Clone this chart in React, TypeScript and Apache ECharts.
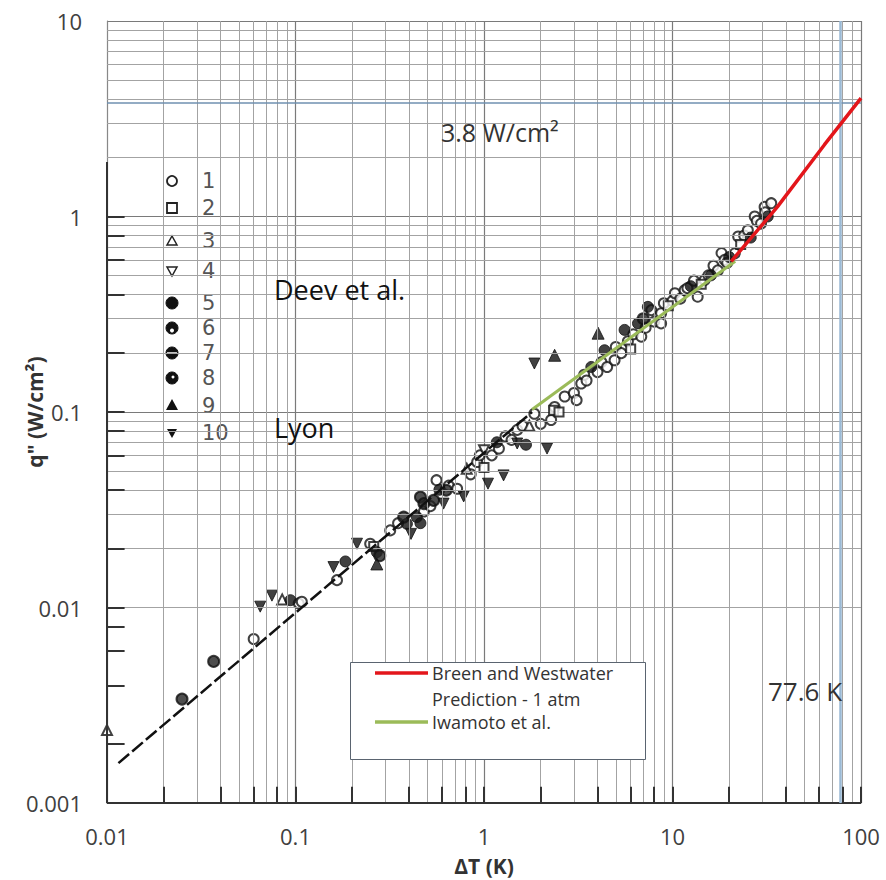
import React, { useEffect, useRef } from "react";
import * as echarts from "echarts";

// ---------- axis ticks ----------
const xTickLabels = ["0.01", "0.1", "1", "10", "100"];
const yTickLabels = ["0.001", "0.01", "0.1", "1", "10"];
const xDecades = [0.01, 0.1, 1, 10];
const yDecades = [0.001, 0.01, 0.1, 1];
const minorMultipliers = [2, 3, 4, 5, 6, 7, 8, 9];
// tick marks of the scanned original figure
const origBottomTicks = [0.02, 0.04, 0.06, 0.08, 0.1, 0.2, 0.4, 0.6, 0.8, 1, 2, 4, 6, 8, 10, 20, 40, 60, 80, 100];
const origLeftTicks = [0.002, 0.004, 0.006, 0.008, 0.01, 0.02, 0.04, 0.06, 0.08, 0.1, 0.2, 0.4, 0.6, 0.8, 1];

// ---------- reference lines ----------
const chfValue = 3.8; // W/cm2
const saturationTemp = 77.6; // K

// ---------- curves ----------
const lyonLine = [[0.0115, 0.0016], [1.8, 0.1]];
const iwamotoLine = [[1.8, 0.103], [21.5, 0.59]];
const breenLine = [[20.5, 0.59], [36, 1.12], [64, 2.33], [100, 4.03]];

// ---------- Deev et al. data (symbols 1..10) ----------
const openCircle = [
  [0.06, 0.0069], [0.104, 0.0105], [0.108, 0.0107], [0.166, 0.0138], [0.249, 0.0212], [0.318, 0.0248],
  [0.35, 0.027], [0.48, 0.031], [0.52, 0.033], [0.56, 0.0448], [0.65, 0.042], [0.72, 0.0405], [0.85, 0.048],
  [0.92, 0.0555], [0.95, 0.06], [1.1, 0.06], [1.2, 0.065], [1.3, 0.075], [1.4, 0.072], [1.5, 0.081],
  [1.6, 0.085], [1.85, 0.098], [2.0, 0.087], [2.27, 0.091], [2.37, 0.106], [2.68, 0.12], [3.0, 0.125],
  [3.1, 0.115], [3.28, 0.14], [3.4, 0.155], [3.5, 0.145], [4.0, 0.16], [4.2, 0.18], [4.5, 0.17],
  [4.93, 0.184], [5.0, 0.215], [5.35, 0.2], [5.8, 0.23], [6.2, 0.25], [6.83, 0.243], [7.2, 0.27],
  [7.72, 0.332], [8.0, 0.29], [8.7, 0.32], [8.7, 0.284], [9.0, 0.36], [10.0, 0.37], [10.3, 0.405],
  [11, 0.38], [11.6, 0.42], [12, 0.43], [13, 0.47], [13.6, 0.389], [14.8, 0.473], [15.5, 0.5],
  [16.5, 0.56], [17.4, 0.53], [18.2, 0.65], [18.9, 0.6], [19.5, 0.58], [21.4, 0.648], [22.3, 0.79],
  [24, 0.8], [25.1, 0.85], [27.3, 1.0], [28, 0.95], [29.5, 0.92], [30.8, 1.12], [31, 1.05], [33.4, 1.17]
];
const openSquare = [
  [0.26, 0.0205], [1.0, 0.052], [2.34, 0.102], [2.5, 0.1], [6.0, 0.21], [9.5, 0.35], [14.2, 0.45], [23, 0.72]
];
const openTriangle = [[0.01, 0.00236], [0.085, 0.011], [0.81, 0.0513], [1.74, 0.085]];
const openTriangleDown = [[1.0, 0.0637]];
const filledCircle = [
  [0.094, 0.0109], [0.184, 0.0172], [0.27, 0.0192], [0.39, 0.0268], [0.44, 0.029], [0.46, 0.027],
  [0.58, 0.04], [1.17, 0.07], [1.67, 0.068], [3.71, 0.17], [4.36, 0.207], [5.57, 0.263], [6.56, 0.284],
  [7.4, 0.345], [12.5, 0.44], [16, 0.5], [20, 0.62], [26, 0.78], [32, 1.0]
];
const halfCircle = [
  [0.025, 0.0034], [0.0368, 0.0053], [0.28, 0.0184], [0.375, 0.029], [0.46, 0.0367], [0.48, 0.034],
  [0.54, 0.0353], [0.63, 0.0398], [7.0, 0.3]
];
const filledTriangle = [[0.27, 0.0167], [2.37, 0.195], [4.03, 0.253]];
const filledTriangleDown = [
  [0.065, 0.0101], [0.075, 0.0115], [0.159, 0.0161], [0.212, 0.0212], [0.41, 0.0238], [0.61, 0.034],
  [0.78, 0.037], [1.05, 0.043], [1.27, 0.0474], [1.5, 0.069], [2.16, 0.065], [1.85, 0.177]
];

const keyLabels = ["1", "2", "3", "4", "5", "6", "7", "8", "9", "10"];

const FONT = "'Open Sans', 'Noto Sans', sans-serif";

function buildOption(): any {
  const minorX: number[] = [];
  xDecades.forEach((d) => minorMultipliers.forEach((m) => minorX.push(+(d * m).toPrecision(3))));
  const minorY: number[] = [];
  yDecades.forEach((d) => minorMultipliers.forEach((m) => minorY.push(+(d * m).toPrecision(3))));

  const gridMarkData: any[] = [
    ...minorX.map((v) => ({ xAxis: v })),
    ...minorY.map((v) => ({ yAxis: v })),
  ];

  const origMarkData: any[] = [
    [{ coord: [0.01, 0.001] }, { coord: [100, 0.001] }],
    [{ coord: [0.01, 0.001] }, { coord: [0.01, 1.9] }],
    ...origBottomTicks.map((v) => [{ coord: [v, 0.001] }, { coord: [v, 0.00121] }]),
    ...origLeftTicks.map((v) => [{ coord: [0.01, v] }, { coord: [0.0124, v] }]),
  ];

  const openStyle = { color: "#ffffff", borderColor: "#111", borderWidth: 2 };
  const fillStyle = { color: "#111", borderColor: "#111", borderWidth: 1 };

  const scatter = (name: string, data: number[][], symbol: string, style: any, size = 10, rotate = 0) => ({
    name,
    type: "scatter",
    data,
    symbol,
    symbolSize: size,
    symbolRotate: rotate,
    itemStyle: style,
    z: 4,
    silent: true,
  });

  // symbol key graphics
  const keyX = 172;
  const keyYs = [181, 208, 241, 271, 303, 328, 353, 378, 406, 433];
  const keyGraphics: any[] = [];
  keyYs.forEach((y, i) => {
    const k = i + 1;
    if (k === 1) keyGraphics.push({ type: "circle", shape: { cx: keyX, cy: y, r: 5 }, style: { fill: "#fff", stroke: "#222", lineWidth: 1.8 } });
    if (k === 2) keyGraphics.push({ type: "rect", shape: { x: keyX - 5, y: y - 5, width: 10, height: 10 }, style: { fill: "#fff", stroke: "#222", lineWidth: 1.8 } });
    if (k === 3) keyGraphics.push({ type: "polygon", shape: { points: [[keyX, y - 5], [keyX + 5, y + 4], [keyX - 5, y + 4]] }, style: { fill: "#fff", stroke: "#222", lineWidth: 1.5 } });
    if (k === 4) keyGraphics.push({ type: "polygon", shape: { points: [[keyX - 5, y - 4], [keyX + 5, y - 4], [keyX, y + 5]] }, style: { fill: "#fff", stroke: "#222", lineWidth: 1.5 } });
    if (k >= 5 && k <= 8) {
      keyGraphics.push({ type: "circle", shape: { cx: keyX, cy: y, r: 6 }, style: { fill: "#111", stroke: "#111", lineWidth: 1 } });
      if (k === 6) keyGraphics.push({ type: "circle", shape: { cx: keyX, cy: y + 2.5, r: 2 }, style: { fill: "#fff" } });
      if (k === 7) keyGraphics.push({ type: "line", shape: { x1: keyX - 5, y1: y, x2: keyX + 5, y2: y }, style: { stroke: "#fff", lineWidth: 1.5 } });
      if (k === 8) keyGraphics.push({ type: "circle", shape: { cx: keyX + 1, cy: y - 1, r: 1.5 }, style: { fill: "#fff" } });
    }
    if (k === 9) keyGraphics.push({ type: "polygon", shape: { points: [[keyX, y - 7], [keyX + 6, y + 4], [keyX - 6, y + 4]] }, style: { fill: "#111" } });
    if (k === 10) keyGraphics.push({ type: "polygon", shape: { points: [[keyX - 5, y - 4], [keyX + 5, y - 4], [keyX, y + 5]] }, style: { fill: "#111" } });
    keyGraphics.push({
      type: "text",
      x: 202,
      y,
      style: {
        text: keyLabels[i],
        fontSize: 21,
        lineHeight: 21,
        fontFamily: "'DejaVu Sans', sans-serif",
        fill: "#555",
        verticalAlign: "middle",
        align: "left",
      },
    });
  });

  const legendGraphics: any[] = [
    { type: "rect", shape: { x: 350.5, y: 662.5, width: 295, height: 97 }, style: { fill: "#fff", stroke: "#5a6470", lineWidth: 1 }, z: 10 },
    { type: "line", shape: { x1: 375, y1: 673, x2: 428, y2: 673 }, style: { stroke: "#e3161b", lineWidth: 3.5 }, z: 11 },
    { type: "line", shape: { x1: 375, y1: 722, x2: 428, y2: 722 }, style: { stroke: "#9bbb59", lineWidth: 3.5 }, z: 11 },
    { type: "text", x: 432, y: 673, z: 11, style: { text: "Breen and Westwater", fontSize: 18, fontFamily: FONT, fill: "#333", verticalAlign: "middle" } },
    { type: "text", x: 432, y: 699, z: 11, style: { text: "Prediction - 1 atm", fontSize: 18, fontFamily: FONT, fill: "#333", verticalAlign: "middle" } },
    { type: "text", x: 432, y: 722, z: 11, style: { text: "Iwamoto et al.", fontSize: 18, fontFamily: FONT, fill: "#333", verticalAlign: "middle" } },
  ];

  const annotations: any[] = [
    { type: "text", x: 441, y: 132, z: 12, style: { text: "3.8 W/cm²", fontSize: 25, fontFamily: FONT, fill: "#333", verticalAlign: "middle" } },
    { type: "text", x: 274, y: 289, z: 12, style: { text: "Deev et al.", fontSize: 27, fontFamily: FONT, fill: "#111", verticalAlign: "middle" } },
    { type: "text", x: 274, y: 427, z: 12, style: { text: "Lyon", fontSize: 27, fontFamily: FONT, fill: "#111", verticalAlign: "middle" } },
    { type: "text", x: 768, y: 691, z: 12, style: { text: "77.6 K", fontSize: 26, fontFamily: FONT, fill: "#333", verticalAlign: "middle" } },
  ];

  return {
    animation: false,
    backgroundColor: "#ffffff",
    grid: { left: 107, right: 25, top: 21, bottom: 77, containLabel: false, outerBoundsMode: "none" },
    xAxis: {
      type: "log",
      logBase: 10,
      min: 0.01,
      max: 100,
      splitNumber: 4,
      name: "ΔT (K)",
      nameLocation: "middle",
      nameGap: 52,
      nameMoveOverlap: false,
      nameTextStyle: { fontSize: 21, fontWeight: "bold", fontFamily: FONT, color: "#333" },
      axisLine: { show: true, lineStyle: { color: "#888", width: 1 } },
      axisTick: { show: false },
      axisLabel: {
        fontSize: 22,
        fontFamily: FONT,
        color: "#404040",
        margin: 22,
        formatter: (v: number) => xTickLabels[Math.round(Math.log10(v)) + 2] ?? "",
      },
      splitLine: { show: true, lineStyle: { color: "#7a7a7a", width: 1.2 } },
    },
    yAxis: {
      type: "log",
      logBase: 10,
      min: 0.001,
      max: 10,
      splitNumber: 4,
      name: 'q" (W/cm²)',
      nameLocation: "middle",
      nameGap: 62,
      nameMoveOverlap: false,
      nameTextStyle: { fontSize: 21, fontWeight: "bold", fontFamily: FONT, color: "#333" },
      axisLine: { show: true, lineStyle: { color: "#888", width: 1 } },
      axisTick: { show: false },
      axisLabel: {
        fontSize: 22,
        fontFamily: FONT,
        color: "#404040",
        margin: 25,
        formatter: (v: number) => yTickLabels[Math.round(Math.log10(v)) + 3] ?? "",
      },
      splitLine: { show: true, lineStyle: { color: "#7a7a7a", width: 1.2 } },
    },
    series: [
      {
        name: "grid",
        type: "line",
        data: [],
        silent: true,
        z: 1,
        markLine: {
          silent: true,
          symbol: ["none", "none"],
          label: { show: false },
          lineStyle: { color: "#a3a3a3", width: 1, type: "solid" },
          data: gridMarkData,
        },
      },
      {
        name: "original axes",
        type: "line",
        data: [],
        silent: true,
        z: 2,
        markLine: {
          silent: true,
          symbol: ["none", "none"],
          label: { show: false },
          lineStyle: { color: "#333", width: 2, type: "solid" },
          data: origMarkData,
        },
      },
      {
        name: "limits",
        type: "line",
        data: [],
        silent: true,
        z: 2,
        markLine: {
          silent: true,
          symbol: ["none", "none"],
          label: { show: false },
          data: [
            { yAxis: chfValue, lineStyle: { color: "#6f90b0", width: 1.5, type: "solid" } },
            { xAxis: saturationTemp, lineStyle: { color: "#9ab9d4", width: 2.5, type: "solid" } },
          ],
        },
      },
      scatter("1", openCircle, "circle", openStyle, 10),
      scatter("2", openSquare, "rect", openStyle, 9),
      scatter("3", openTriangle, "triangle", openStyle, 10),
      scatter("4", openTriangleDown, "triangle", openStyle, 10, 180),
      scatter("5", filledCircle, "circle", fillStyle, 11),
      scatter("6", halfCircle, "circle", { color: "#222", borderColor: "#111", borderWidth: 2 }, 11),
      scatter("9", filledTriangle, "triangle", fillStyle, 12),
      scatter("10", filledTriangleDown, "triangle", fillStyle, 11, 180),
      {
        name: "Lyon",
        type: "line",
        data: lyonLine,
        symbol: "none",
        z: 5,
        silent: true,
        lineStyle: { color: "#111", width: 2.5, type: [14, 4] },
      },
      {
        name: "Iwamoto et al.",
        type: "line",
        data: iwamotoLine,
        symbol: "none",
        z: 6,
        silent: true,
        lineStyle: { color: "#9bbb59", width: 3 },
      },
      {
        name: "Breen and Westwater Prediction - 1 atm",
        type: "line",
        data: breenLine,
        symbol: "none",
        z: 6,
        silent: true,
        lineStyle: { color: "#e3161b", width: 3.5 },
      },
    ],
    graphic: [...keyGraphics, ...legendGraphics, ...annotations],
  };
}

export default function App() {
  const ref = useRef<HTMLDivElement>(null);
  useEffect(() => {
    document.body.style.margin = "0";
    if (!ref.current) return;
    const chart = echarts.init(ref.current, undefined, { renderer: "svg" });
    chart.setOption(buildOption());
    return () => chart.dispose();
  }, []);
  return <div ref={ref} style={{ width: 886, height: 880, background: "#fff" }} />;
}
